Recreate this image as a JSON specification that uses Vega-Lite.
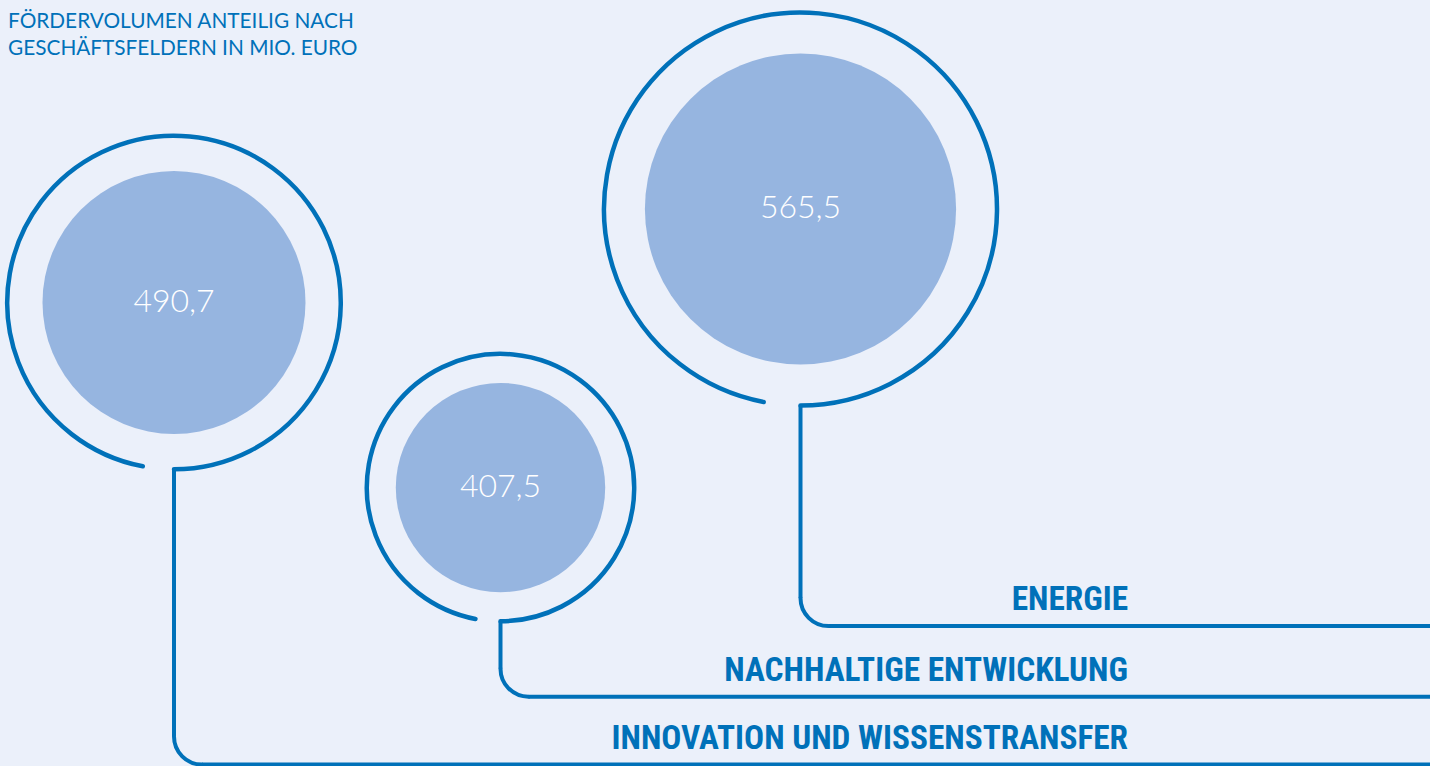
{
  "$schema": "https://vega.github.io/schema/vega-lite/v6.json",
  "width": 1430,
  "height": 766,
  "autosize": "none",
  "padding": 0,
  "background": "#EBF0FA",
  "config": {
    "view": {"stroke": null},
    "locale": {"number": {"decimal": ",", "thousands": ".", "grouping": [3], "currency": ["", " €"]}}
  },
  "data": {
    "values": [
      {"feld": "ENERGIE", "value": 565.5, "cx": 800.5, "cy": 209, "stem_top": 405.5, "level": 626},
      {"feld": "NACHHALTIGE ENTWICKLUNG", "value": 407.5, "cx": 500.5, "cy": 487.6, "stem_top": 621.3, "level": 696.7},
      {"feld": "INNOVATION UND WISSENSTRANSFER", "value": 490.7, "cx": 174, "cy": 302.5, "stem_top": 468.3, "level": 764.5}
    ]
  },
  "resolve": {"scale": {"radius": "independent"}},
  "layer": [
    {
      "mark": {"type": "arc", "theta": 0, "theta2": 6.2832, "fill": "#96B5E0"},
      "encoding": {
        "x": {"field": "cx", "type": "quantitative", "axis": null, "scale": {"domain": [0, 1430], "nice": false, "zero": false}},
        "y": {"field": "cy", "type": "quantitative", "axis": null, "scale": {"domain": [0, 766], "reverse": true, "nice": false, "zero": false}},
        "radius": {"field": "value", "type": "quantitative", "stack": null, "scale": {"type": "linear", "domain": [407.5, 565.5], "range": [104.7, 155.6], "zero": false, "nice": false}},
        "radius2": {"value": 0}
      }
    },
    {
      "mark": {"type": "arc", "theta": 3.33, "theta2": 9.4248, "fill": null, "stroke": "#0071B9", "strokeWidth": 4.5, "strokeJoin": "round"},
      "encoding": {
        "x": {"field": "cx", "type": "quantitative", "axis": null, "scale": {"domain": [0, 1430], "nice": false, "zero": false}},
        "y": {"field": "cy", "type": "quantitative", "axis": null, "scale": {"domain": [0, 766], "reverse": true, "nice": false, "zero": false}},
        "radius": {"field": "value", "type": "quantitative", "stack": null, "scale": {"type": "linear", "domain": [407.5, 565.5], "range": [133.7, 196.5], "zero": false, "nice": false}},
        "radius2": {"field": "value"}
      }
    },
    {
      "mark": {"type": "rule", "stroke": "#0071B9", "strokeWidth": 4, "y2Offset": -28},
      "encoding": {
        "x": {"field": "cx", "type": "quantitative", "axis": null, "scale": {"domain": [0, 1430], "nice": false, "zero": false}},
        "y": {"field": "stem_top", "type": "quantitative", "axis": null, "scale": {"domain": [0, 766], "reverse": true, "nice": false, "zero": false}},
        "y2": {"field": "level"}
      }
    },
    {
      "mark": {"type": "rule", "stroke": "#0071B9", "strokeWidth": 4, "xOffset": 28},
      "encoding": {
        "x": {"field": "cx", "type": "quantitative", "axis": null, "scale": {"domain": [0, 1430], "nice": false, "zero": false}},
        "x2": {"datum": 1430},
        "y": {"field": "level", "type": "quantitative", "axis": null, "scale": {"domain": [0, 766], "reverse": true, "nice": false, "zero": false}}
      }
    },
    {
      "mark": {"type": "arc", "theta": 3.1416, "theta2": 4.7124, "radius": 28, "radius2": 28, "xOffset": 28, "yOffset": -28, "fill": null, "stroke": "#0071B9", "strokeWidth": 4, "strokeJoin": "round"},
      "encoding": {
        "x": {"field": "cx", "type": "quantitative", "axis": null, "scale": {"domain": [0, 1430], "nice": false, "zero": false}},
        "y": {"field": "level", "type": "quantitative", "axis": null, "scale": {"domain": [0, 766], "reverse": true, "nice": false, "zero": false}}
      }
    },
    {
      "mark": {"type": "text", "font": "Lato", "fontWeight": 300, "fontSize": 32, "color": "#FFFFFF", "align": "center", "baseline": "alphabetic", "dy": 9},
      "encoding": {
        "x": {"field": "cx", "type": "quantitative", "axis": null, "scale": {"domain": [0, 1430], "nice": false, "zero": false}},
        "y": {"field": "cy", "type": "quantitative", "axis": null, "scale": {"domain": [0, 766], "reverse": true, "nice": false, "zero": false}},
        "text": {"field": "value", "type": "quantitative", "format": ".1f"}
      }
    },
    {
      "mark": {"type": "text", "font": "Liberation Sans Narrow, Roboto Condensed, Liberation Sans", "fontWeight": "bold", "fontSize": 33.3, "color": "#0071B9", "align": "right", "baseline": "alphabetic", "yOffset": -16},
      "encoding": {
        "x": {"datum": 1128, "type": "quantitative", "axis": null, "scale": {"domain": [0, 1430], "nice": false, "zero": false}},
        "y": {"field": "level", "type": "quantitative", "axis": null, "scale": {"domain": [0, 766], "reverse": true, "nice": false, "zero": false}},
        "text": {"field": "feld", "type": "nominal"}
      }
    },
    {
      "data": {"values": [{"titel": ["FÖRDERVOLUMEN ANTEILIG NACH", "GESCHÄFTSFELDERN IN MIO. EURO"], "x": 8, "y": 28.3}]},
      "mark": {"type": "text", "font": "Lato", "fontWeight": 400, "fontSize": 20.8, "lineHeight": 26.7, "color": "#0071B9", "align": "left", "baseline": "alphabetic"},
      "encoding": {
        "x": {"field": "x", "type": "quantitative", "axis": null, "scale": {"domain": [0, 1430], "nice": false, "zero": false}},
        "y": {"field": "y", "type": "quantitative", "axis": null, "scale": {"domain": [0, 766], "reverse": true, "nice": false, "zero": false}},
        "text": {"field": "titel"}
      }
    }
  ]
}
